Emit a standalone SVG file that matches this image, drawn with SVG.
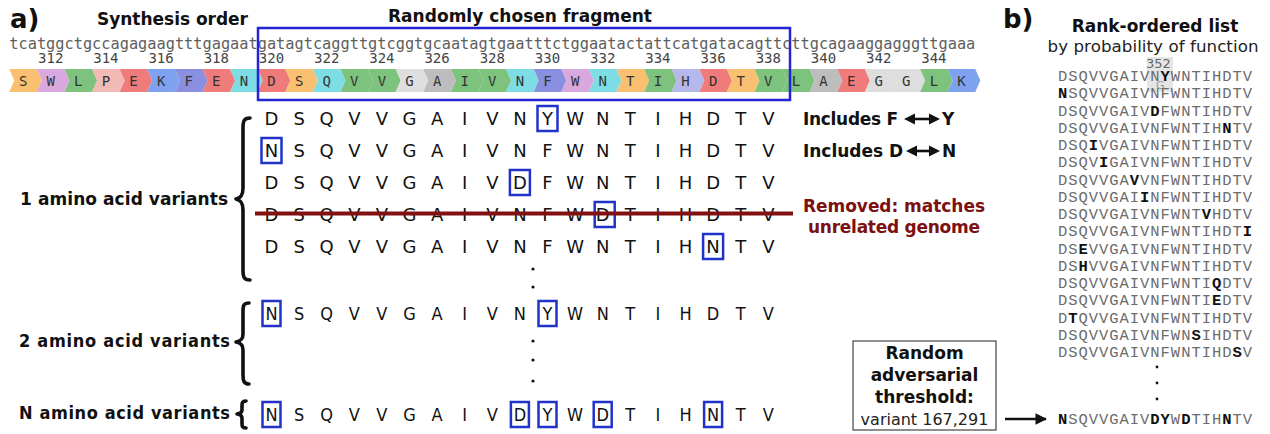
<svg xmlns="http://www.w3.org/2000/svg" width="1270" height="434" viewBox="0 0 1270 434">
<style>
.hb{font-family:"DejaVu Sans","Liberation Sans",sans-serif;font-weight:bold;font-size:17px;fill:#111}
.hr{font-family:"DejaVu Sans","Liberation Sans",sans-serif;font-size:16.7px;fill:#222}
.panel{font-family:"DejaVu Sans","Liberation Sans",sans-serif;font-weight:bold;font-size:26px;fill:#111}
.dna{font-family:"DejaVu Sans Mono","Liberation Mono",monospace;font-size:15.3px;fill:#5e5e5e}
.num{font-family:"DejaVu Sans Mono","Liberation Mono",monospace;font-size:14px;fill:#444;text-anchor:middle}
.aa{font-family:"DejaVu Sans Mono","Liberation Mono",monospace;font-size:14px;fill:#333;text-anchor:middle}
.row{font-family:"DejaVu Sans","Liberation Sans",sans-serif;font-size:18px;fill:#111;text-anchor:middle}
.rowc{font-family:"DejaVu Sans Condensed","DejaVu Sans","Liberation Sans Narrow",sans-serif;font-stretch:condensed;font-size:18px;fill:#111;text-anchor:middle}
.lblc{font-family:"DejaVu Sans Condensed","DejaVu Sans","Liberation Sans Narrow",sans-serif;font-stretch:condensed;font-weight:bold;font-size:18px;fill:#111}
.box{fill:none;stroke:#2233cc;stroke-width:2.5}
.brace{fill:none;stroke:#111;stroke-width:3.6;stroke-linecap:round;stroke-linejoin:round}
.red{font-family:"DejaVu Sans","Liberation Sans",sans-serif;font-weight:bold;font-size:17px;fill:#7d1010;text-anchor:middle}
.list{font-family:"Liberation Mono","Courier New",monospace;font-size:15.5px;fill:#6c6c6c}
.list .b{font-weight:bold;fill:#111}
.dot{fill:#111}
.cen{text-anchor:middle}
.arr{fill:#111}
</style>
<defs>
<path id="chev" d="M0,69 H27.6 L32.6,80.5 L27.6,92 H0 L5,80.5 Z"/>
<marker id="ah" viewBox="0 0 10 10" refX="9" refY="5" markerWidth="4.5" markerHeight="4.5" orient="auto"><path d="M0,0 L10,5 L0,10 Z" fill="#111"/></marker>
</defs>

<g id="panel-a-header">
<text class="panel" x="10" y="28">a)</text>
<text class="hb" x="97" y="25" textLength="151">Synthesis order</text>
<text class="hb" x="388" y="22" textLength="264">Randomly chosen fragment</text>
</g>

<g id="dna-sequence">
<text class="dna" x="9.3" y="49" textLength="966" lengthAdjust="spacing">tcatggctgccagagaagtttgagaatgatagtcaggttgtcggtgcaatagtgaatttctggaatactattcatgatacagttcttgcagaaggagggttgaaa</text>
</g>

<g id="position-numbers">
<text class="num" x="50.7" y="63">312</text>
<text class="num" x="105.9" y="63">314</text>
<text class="num" x="161.1" y="63">316</text>
<text class="num" x="216.3" y="63">318</text>
<text class="num" x="271.5" y="63">320</text>
<text class="num" x="326.7" y="63">322</text>
<text class="num" x="381.9" y="63">324</text>
<text class="num" x="437.1" y="63">326</text>
<text class="num" x="492.3" y="63">328</text>
<text class="num" x="547.5" y="63">330</text>
<text class="num" x="602.7" y="63">332</text>
<text class="num" x="657.9" y="63">334</text>
<text class="num" x="713.1" y="63">336</text>
<text class="num" x="768.3" y="63">338</text>
<text class="num" x="823.5" y="63">340</text>
<text class="num" x="878.7" y="63">342</text>
<text class="num" x="933.9" y="63">344</text>
</g>

<g id="amino-acid-track">
<use href="#chev" x="9.3" fill="#f8c070"/>
<use href="#chev" x="36.9" fill="#d9a8de"/>
<use href="#chev" x="64.5" fill="#7dc27d"/>
<use href="#chev" x="92.1" fill="#f1bab4"/>
<use href="#chev" x="119.7" fill="#ef7b7b"/>
<use href="#chev" x="147.3" fill="#7ea2f0"/>
<use href="#chev" x="174.9" fill="#8a8fe0"/>
<use href="#chev" x="202.5" fill="#ef7b7b"/>
<use href="#chev" x="230.1" fill="#7edde4"/>
<use href="#chev" x="257.7" fill="#ef7b7b"/>
<use href="#chev" x="285.3" fill="#f8c070"/>
<use href="#chev" x="312.9" fill="#7edde4"/>
<use href="#chev" x="340.5" fill="#7dc27d"/>
<use href="#chev" x="368.1" fill="#7dc27d"/>
<use href="#chev" x="395.7" fill="#dedede"/>
<use href="#chev" x="423.3" fill="#bdbdbd"/>
<use href="#chev" x="450.9" fill="#7dc27d"/>
<use href="#chev" x="478.5" fill="#7dc27d"/>
<use href="#chev" x="506.1" fill="#7edde4"/>
<use href="#chev" x="533.7" fill="#8a8fe0"/>
<use href="#chev" x="561.3" fill="#d9a8de"/>
<use href="#chev" x="588.9" fill="#7edde4"/>
<use href="#chev" x="616.5" fill="#f8c070"/>
<use href="#chev" x="644.1" fill="#7dc27d"/>
<use href="#chev" x="671.7" fill="#b6b8ec"/>
<use href="#chev" x="699.3" fill="#ef7b7b"/>
<use href="#chev" x="726.9" fill="#f8c070"/>
<use href="#chev" x="754.5" fill="#7dc27d"/>
<use href="#chev" x="782.1" fill="#7dc27d"/>
<use href="#chev" x="809.7" fill="#bdbdbd"/>
<use href="#chev" x="837.3" fill="#ef7b7b"/>
<use href="#chev" x="864.9" fill="#dedede"/>
<use href="#chev" x="892.5" fill="#dedede"/>
<use href="#chev" x="920.1" fill="#7dc27d"/>
<use href="#chev" x="947.7" fill="#7ea2f0"/>
<text class="aa" y="86" x="23.1 50.7 78.3 105.9 133.5 161.1 188.7 216.3 243.9 271.5 299.1 326.7 354.3 381.9 409.5 437.1 464.7 492.3 519.9 547.5 575.1 602.7 630.3 657.9 685.5 713.1 740.7 768.3 795.9 823.5 851.1 878.7 906.3 933.9 961.5">SWLPEKFENDSQVVGAIVNFWNTIHDTVLAEGGLK</text>
</g>

<g id="fragment-box">
<rect x="258" y="28" width="532" height="72" fill="none" stroke="#2424d4" stroke-width="2.5"/>
</g>

<g id="variants-1aa">
<text class="hb" x="20" y="205" textLength="208">1 amino acid variants</text>
<path class="brace" d="M250,118 C244,118 243,121 243,128 L243,188 C243,195 241,198 236,199 C241,200 243,203 243,210 L243,270 C243,277 244,280 250,280"/>
<text class="row" y="125" x="271.5 299.1 326.7 354.3 381.9 409.5 437.1 464.7 492.3 519.9 547.5 575.1 602.7 630.3 657.9 685.5 713.1 740.7 768.3">DSQVVGAIVNYWNTIHDTV</text>
<rect class="box" x="537.5" y="106" width="20" height="25"/>
<text class="row" y="157" x="271.5 299.1 326.7 354.3 381.9 409.5 437.1 464.7 492.3 519.9 547.5 575.1 602.7 630.3 657.9 685.5 713.1 740.7 768.3">NSQVVGAIVNFWNTIHDTV</text>
<rect class="box" x="261.5" y="138" width="20" height="25"/>
<text class="row" y="189" x="271.5 299.1 326.7 354.3 381.9 409.5 437.1 464.7 492.3 519.9 547.5 575.1 602.7 630.3 657.9 685.5 713.1 740.7 768.3">DSQVVGAIVDFWNTIHDTV</text>
<rect class="box" x="509.9" y="170" width="20" height="25"/>
<text class="row" y="221" x="271.5 299.1 326.7 354.3 381.9 409.5 437.1 464.7 492.3 519.9 547.5 575.1 602.7 630.3 657.9 685.5 713.1 740.7 768.3">DSQVVGAIVNFWDTIHDTV</text>
<rect class="box" x="594.7" y="202" width="20" height="25"/>
<line x1="255" y1="213.5" x2="793" y2="213.5" stroke="#821010" stroke-width="4.2"/>
<text class="row" y="253" x="271.5 299.1 326.7 354.3 381.9 409.5 437.1 464.7 492.3 519.9 547.5 575.1 602.7 630.3 657.9 685.5 713.1 740.7 768.3">DSQVVGAIVNFWNTIHNTV</text>
<rect class="box" x="703.1" y="234" width="20" height="25"/>
<circle class="dot" cx="533" cy="269" r="1.6"/>
<circle class="dot" cx="533" cy="287" r="1.6"/>
</g>

<g id="annotations">
<text class="hb" x="803" y="125" textLength="95">Includes F</text>
<text class="hb" x="942" y="125">Y</text>
<rect x="911" y="117.7" width="22" height="2.6" class="arr"/>
<polygon class="arr" points="904,119 915,113.5 915,124.5"/>
<polygon class="arr" points="940,119 929,113.5 929,124.5"/>
<text class="hb" x="803" y="157" textLength="100">Includes D</text>
<text class="hb" x="942" y="157">N</text>
<rect x="913" y="149.7" width="20" height="2.6" class="arr"/>
<polygon class="arr" points="906,151 917,145.5 917,156.5"/>
<polygon class="arr" points="940,151 929,145.5 929,156.5"/>
<text class="red" x="894" y="212" textLength="182">Removed: matches</text>
<text class="red" x="894" y="233" textLength="172">unrelated genome</text>
</g>

<g id="variants-2aa">
<text class="lblc" x="19" y="347" textLength="211">2 amino acid variants</text>
<path class="brace" d="M249,303 C244,303 243,305 243,311 L243,334 C243,339 241,341 236,342 C241,343 243,345 243,350 L243,375 C243,381 244,384 249,384"/>
<text class="rowc" y="320" x="271.5 299.1 326.7 354.3 381.9 409.5 437.1 464.7 492.3 519.9 547.5 575.1 602.7 630.3 657.9 685.5 713.1 740.7 768.3">NSQVVGAIVNYWNTIHDTV</text>
<rect class="box" x="262.5" y="301" width="18" height="25"/>
<rect class="box" x="538.5" y="301" width="18" height="25"/>
<circle class="dot" cx="533" cy="341" r="1.6"/>
<circle class="dot" cx="533" cy="360" r="1.6"/>
<circle class="dot" cx="533" cy="381" r="1.6"/>
</g>

<g id="variants-Naa">
<text class="lblc" x="19" y="419" textLength="211">N amino acid variants</text>
<path class="brace" d="M246,401 C242,401 242,403 242,406 L242,410 C242,412 240,413.5 237,414 C240,414.5 242,416 242,418 L242,423 C242,426 242,428 246,428"/>
<text class="rowc" y="421" x="271.5 299.1 326.7 354.3 381.9 409.5 437.1 464.7 492.3 519.9 547.5 575.1 602.7 630.3 657.9 685.5 713.1 740.7 768.3">NSQVVGAIVDYWDTIHNTV</text>
<rect class="box" x="262.5" y="402" width="18" height="25"/>
<rect class="box" x="510.9" y="402" width="18" height="25"/>
<rect class="box" x="538.5" y="402" width="18" height="25"/>
<rect class="box" x="593.7" y="402" width="18" height="25"/>
<rect class="box" x="704.1" y="402" width="18" height="25"/>
</g>

<g id="threshold-box">
<rect x="853" y="341" width="143" height="89" fill="#fff" stroke="#444" stroke-width="1.2"/>
<text class="hb cen" x="924.5" y="359">Random</text>
<text class="hb cen" x="924.5" y="381">adversarial</text>
<text class="hb cen" x="924.5" y="403">threshold:</text>
<text class="hr cen" x="924.5" y="425" style="font-size:16px">variant 167,291</text>
</g>

<g id="panel-b">
<text class="panel" x="1003" y="28">b)</text>
<text class="hb cen" x="1155" y="32">Rank-ordered list</text>
<rect x="1147" y="57" width="26" height="35" fill="#dcdcdc" opacity="0.75"/>
<text class="hr" x="1146" y="68" style="font-size:13px;fill:#666">352</text>
<text class="hr" x="1156" y="89" style="font-size:11px;fill:#9a9a9a">G</text>
<text class="hr cen" x="1153" y="52" textLength="211">by probability of function</text>
<g class="list">
<text x="1058" y="81" textLength="194">DSQVVGAIVN<tspan class="b">Y</tspan>WNTIHDTV</text>
<text x="1058" y="98.3" textLength="194"><tspan class="b">N</tspan>SQVVGAIVNFWNTIHDTV</text>
<text x="1058" y="115.5" textLength="194">DSQVVGAIV<tspan class="b">D</tspan>FWNTIHDTV</text>
<text x="1058" y="132.8" textLength="194">DSQVVGAIVNFWNTIH<tspan class="b">N</tspan>TV</text>
<text x="1058" y="150" textLength="194">DSQ<tspan class="b">I</tspan>VGAIVNFWNTIHDTV</text>
<text x="1058" y="167.3" textLength="194">DSQV<tspan class="b">I</tspan>GAIVNFWNTIHDTV</text>
<text x="1058" y="184.5" textLength="194">DSQVVGA<tspan class="b">V</tspan>VNFWNTIHDTV</text>
<text x="1058" y="201.8" textLength="194">DSQVVGAI<tspan class="b">I</tspan>NFWNTIHDTV</text>
<text x="1058" y="219" textLength="194">DSQVVGAIVNFWNT<tspan class="b">V</tspan>HDTV</text>
<text x="1058" y="236.3" textLength="194">DSQVVGAIVNFWNTIHDT<tspan class="b">I</tspan></text>
<text x="1058" y="253.5" textLength="194">DS<tspan class="b">E</tspan>VVGAIVNFWNTIHDTV</text>
<text x="1058" y="270.8" textLength="194">DS<tspan class="b">H</tspan>VVGAIVNFWNTIHDTV</text>
<text x="1058" y="288" textLength="194">DSQVVGAIVNFWNTI<tspan class="b">Q</tspan>DTV</text>
<text x="1058" y="305.3" textLength="194">DSQVVGAIVNFWNTI<tspan class="b">E</tspan>DTV</text>
<text x="1058" y="322.5" textLength="194">D<tspan class="b">T</tspan>QVVGAIVNFWNTIHDTV</text>
<text x="1058" y="339.8" textLength="194">DSQVVGAIVNFWN<tspan class="b">S</tspan>IHDTV</text>
<text x="1058" y="357" textLength="194">DSQVVGAIVNFWNTIHD<tspan class="b">S</tspan>V</text>
<text x="1058" y="424" textLength="194"><tspan class="b">N</tspan>SQVVGAIV<tspan class="b">DY</tspan>W<tspan class="b">D</tspan>TIH<tspan class="b">N</tspan>TV</text>
</g>
<circle class="dot" cx="1157" cy="367" r="1.4"/>
<circle class="dot" cx="1157" cy="383" r="1.4"/>
<circle class="dot" cx="1157" cy="399" r="1.4"/>
</g>

<g id="connectors">
<line x1="1005" y1="419" x2="1046" y2="419" stroke="#111" stroke-width="2.6" marker-end="url(#ah)"/>
</g>
</svg>
